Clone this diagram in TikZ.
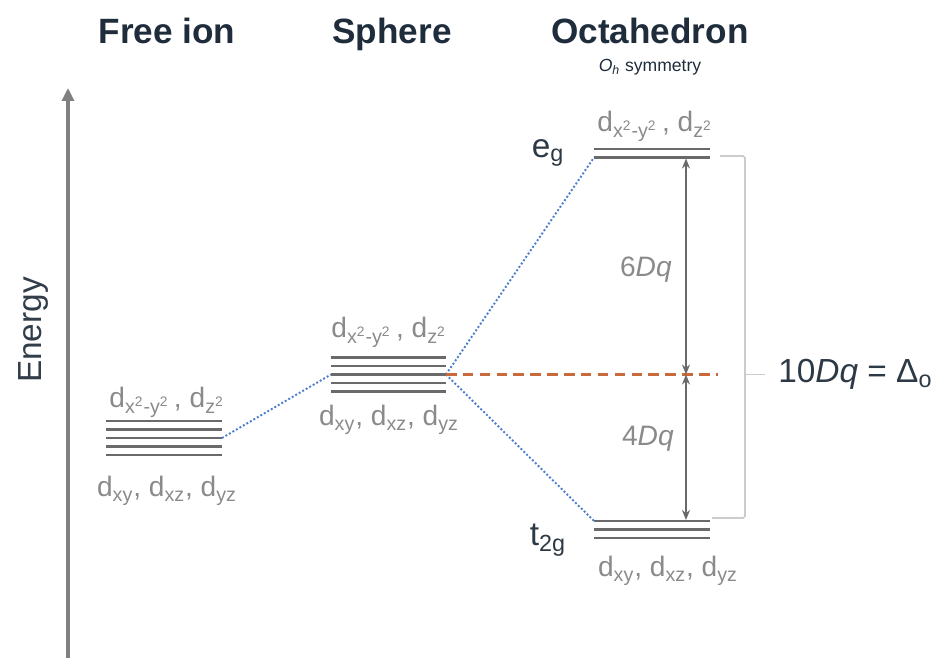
\documentclass[tikz,border=0pt]{standalone}
\usepackage{fontspec}
\setmainfont{Liberation Sans}
\usepackage{xcolor}
\usepackage{tikz}
\usetikzlibrary{arrows.meta, positioning, calc}
\definecolor{titlecol}{HTML}{1E2C3B}
\definecolor{levelgray}{HTML}{6A6A6A}
\definecolor{labelgray}{HTML}{8A8A8A}
\definecolor{dotblue}{HTML}{4A7DCC}
\definecolor{dashorange}{HTML}{C86A3C}
\definecolor{bracketgray}{HTML}{CCCCCC}
\definecolor{axisgray}{HTML}{808080}
\newcommand{\orbsub}[1]{\textsubscript{#1}}
\newcommand{\egset}{d\orbsub{x\textsuperscript{2}-y\textsuperscript{2}}\,, d\orbsub{z\textsuperscript{2}}}
\newcommand{\tset}{d\orbsub{xy}, d\orbsub{xz}, d\orbsub{yz}}
\tikzset{
  % Titles and labels
  heading/.style={font=\fontsize{20}{22}\selectfont\bfseries, text=titlecol, inner sep=0pt, anchor=base},
  orblabel/.style={font=\fontsize{16}{18}\selectfont, text=labelgray, inner sep=0pt},
  splitlabel/.style={font=\fontsize{19}{21}\selectfont, text=titlecol!85!gray, inner sep=0pt},
  dqlabel/.style={font=\fontsize{16}{18}\selectfont, text=labelgray, inner sep=0pt},
  % Lines
  level/.style={draw=levelgray, line width=1.4pt},
  corr/.style={draw=dotblue, line width=1.1pt, dash pattern=on 1.1pt off 1.2pt},
  bary/.style={draw=dashorange, line width=1.3pt, dash pattern=on 6pt off 3.6pt},
  gap/.style={{Stealth[length=2mm, width=1.6mm]}-{Stealth[length=2mm, width=1.6mm]}, draw=levelgray, line width=1.1pt},
  brace/.style={draw=bracketgray, line width=0.9pt, rounded corners=1pt},
}
\begin{document}
\begin{tikzpicture}[x=0.02cm, y=-0.02cm, node distance=0.4cm]
    \useasboundingbox (0,0) rectangle (944,661);

    % Headings
    \node[heading] (hfree) at (167,44) {Free ion};
    \node[heading] (hsph) at (392,44) {Sphere};
    \node[heading] (hoct) at (650,44) {Octahedron};
    \node[font=\fontsize{10}{12}\selectfont, text=titlecol, inner sep=0pt, below=0.3cm of hoct.base] (sym) {\textit{O}\orbsub{\textit{h}} symmetry};

    % Energy axis
    \coordinate (ebot) at (68,658);
    \coordinate (etop) at (68,88);
    \draw[-{Triangle[length=2.6mm, width=2.4mm]}, draw=axisgray, line width=1.8pt] (ebot) -- (etop);
    \node[font=\fontsize{19}{21}\selectfont, text=titlecol!80!gray, rotate=90] (energy) at (33,330) {Energy};

    % Free ion
    \foreach \y in {421,429.5,438,446.5,455}
      \draw[level] (106,\y) -- (222,\y);
    \coordinate (freeR) at (222,438);
    \node[orblabel] (freeup) at (167,402) {\egset};
    \node[orblabel] (freelo) at (167,491) {\tset};

    % Sphere
    \foreach \y in {357.5,366,374.5,383,391.5}
      \draw[level] (331,\y) -- (446,\y);
    \coordinate (sphL) at (331,374.5);
    \coordinate (sphR) at (446,374.5);
    \node[orblabel] (sphup) at (389,332) {\egset};
    \node[orblabel] (sphlo) at (389,420) {\tset};

    % Octahedron
    \foreach \y in {149,157.5}
      \draw[level] (594,\y) -- (710,\y);
    \foreach \y in {521,529.5,538}
      \draw[level] (594,\y) -- (710,\y);
    \coordinate (egL) at (594,157.5);
    \coordinate (tL) at (594,521);
    \node[orblabel] (egup) at (655,126) {\egset};
    \node[orblabel] (tlo) at (668,571) {\tset};
    \node[splitlabel] (eg) at (548,153) {e\orbsub{g}};
    \node[splitlabel] (t2g) at (548,540) {t\orbsub{2g}};

    % Correlation lines
    \draw[corr] (freeR) -- (sphL);
    \draw[corr] (sphR) -- (egL);
    \draw[corr] (sphR) -- (tL);

    % Barycentre
    \coordinate (baryR) at (718,374.5);
    \draw[bary] (sphR) -- (baryR);

    % Splitting arrows
    \coordinate (mid) at (686,374.5);
    \coordinate (egA) at (686,158.5);
    \coordinate (tA) at (686,520);
    \draw[gap] (mid) -- (egA);
    \draw[gap] (mid) -- (tA);
    \node[dqlabel, anchor=east] (six) at (672,270) {6\textit{Dq}};
    \node[dqlabel, anchor=east] (four) at (674,439) {4\textit{Dq}};

    % Bracket
    \coordinate (brT) at (720,156);
    \coordinate (brB) at (712,518);
    \coordinate (brM) at (745,374.5);
    \coordinate (brTick) at (765,374.5);
    \draw[brace] (brT) -| (brM) |- (brB);
    \draw[brace] (brM) -- (brTick);
    \node[splitlabel, anchor=west] (delta) at (778,374.5) {10\textit{Dq} = Δ\orbsub{o}};
  \end{tikzpicture}
\end{document}
